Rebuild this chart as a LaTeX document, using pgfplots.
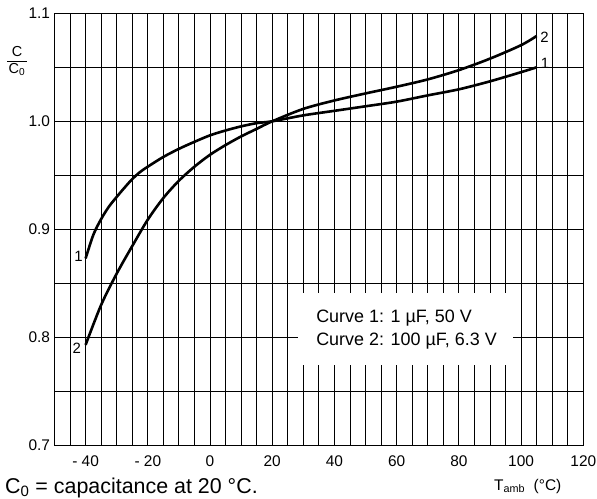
\documentclass[border=0pt]{standalone}
\usepackage{fontspec}
\setmainfont{Liberation Sans}
\usepackage{pgfplots}
\pgfplotsset{compat=1.18}
\begin{document}
\begin{tikzpicture}
\path[use as bounding box] (-54.5bp,-53.7bp) rectangle (542.5bp,445.3bp);
\begin{axis}[
  at={(0,0)}, anchor=south west,
  scale only axis, width=528.8bp, height=432bp,
  xmin=-50, xmax=120, ymin=0.7, ymax=1.1,
  clip=false,
  xtick={-40,-20,0,20,40,60,80,100,120},
  xticklabels={- 40,- 20,0,20,40,60,80,100,120},
  minor xtick={-45,-35,-30,-25,-15,-10,-5,5,10,15,25,30,35,45,50,55,65,70,75,85,90,95,105,110,115},
  ytick={0.7,0.8,0.9,1.0,1.1},
  yticklabels={0.7,0.8,0.9,1.0,1.1},
  minor ytick={0.75,0.85,0.95,1.05},
  major tick length=0pt, minor tick length=0pt,
  grid=both,
  grid style={black, line width=0.9bp},
  minor grid style={black, line width=0.9bp},
  axis line style={black, line width=1.2bp},
  xticklabel style={font=\fontsize{15.5}{18}\selectfont, yshift=-7bp},
  yticklabel style={font=\fontsize{15.5}{18}\selectfont, xshift=-1bp},
  /pgf/number format/assume math mode=true,
]
\addplot[black, line width=2.6bp, smooth] coordinates {
(-40,0.873) (-37.5,0.895) (-35,0.9095) (-32.5,0.921) (-30,0.930) (-27.5,0.9385) (-25,0.9465) (-22.5,0.953) (-20,0.958)
(-15,0.967) (-10,0.9745) (-5,0.981) (0,0.987) (5,0.9915) (10,0.9953)
(15,0.9983) (20,1.000) (30,1.0055) (40,1.0097) (50,1.0139) (60,1.0182)
(70,1.024) (80,1.0296) (90,1.037) (100,1.0455) (105,1.050)
};
\addplot[black, line width=2.6bp, smooth] coordinates {
(-40,0.793) (-35,0.830) (-30,0.859) (-25,0.8845) (-20,0.909) (-15,0.929)
(-10,0.945) (-5,0.958) (0,0.969) (5,0.978) (10,0.986) (15,0.993)
(20,1.000) (30,1.0115) (40,1.0193) (50,1.0258) (60,1.032) (70,1.0388)
(80,1.0474) (90,1.058) (100,1.0705) (105,1.079)
};
\fill[white] (axis cs:25.4,0.7745) rectangle (axis cs:99.6,0.841);
\draw[black, line width=0.9bp] (axis cs:25,0.8) -- (axis cs:28.3,0.8);
\draw[black, line width=0.9bp] (axis cs:97.5,0.8) -- (axis cs:100,0.8);
\node[anchor=base west, inner sep=0pt, font=\fontsize{18}{20}\selectfont] at (axis cs:34.1,0.8135) {Curve 1: 1 µF, 50 V};
\node[anchor=base west, inner sep=0pt, font=\fontsize{18}{20}\selectfont] at (axis cs:34.1,0.792) {Curve 2: 100 µF, 6.3 V};
\node[font=\fontsize{15}{17}\selectfont, inner sep=0pt] at (axis cs:-42.3,0.8746) {1};
\node[font=\fontsize{15}{17}\selectfont, inner sep=0pt] at (axis cs:-42.8,0.790) {2};
\node[font=\fontsize{15}{17}\selectfont, inner sep=0pt] at (axis cs:107.5,1.078) {2};
\node[font=\fontsize{15}{17}\selectfont, inner sep=0pt] at (axis cs:107.7,1.0537) {1};
\node[font=\fontsize{14.5}{16}\selectfont, inner sep=0pt, xshift=-37.5bp] at (axis cs:-50,1.055)
  {\begin{tabular}{@{\hspace{1.5bp}}c@{\hspace{1.5bp}}}C\\[-1bp]\hline\noalign{\vskip1bp}C\textsubscript{0}\end{tabular}};
\node[anchor=base west, inner sep=0pt, font=\fontsize{21.5}{24}\selectfont, xshift=-49.5bp, yshift=-48bp] at (axis cs:-50,0.7) {C\textsubscript{0} = capacitance at 20 °C.};
\node[anchor=base west, inner sep=0pt, font=\fontsize{15.5}{17}\selectfont, xshift=439.5bp, yshift=-44.7bp] at (axis cs:-50,0.7) {T\textsubscript{amb}\ \ (°C)};
\end{axis}
\end{tikzpicture}
\end{document}
